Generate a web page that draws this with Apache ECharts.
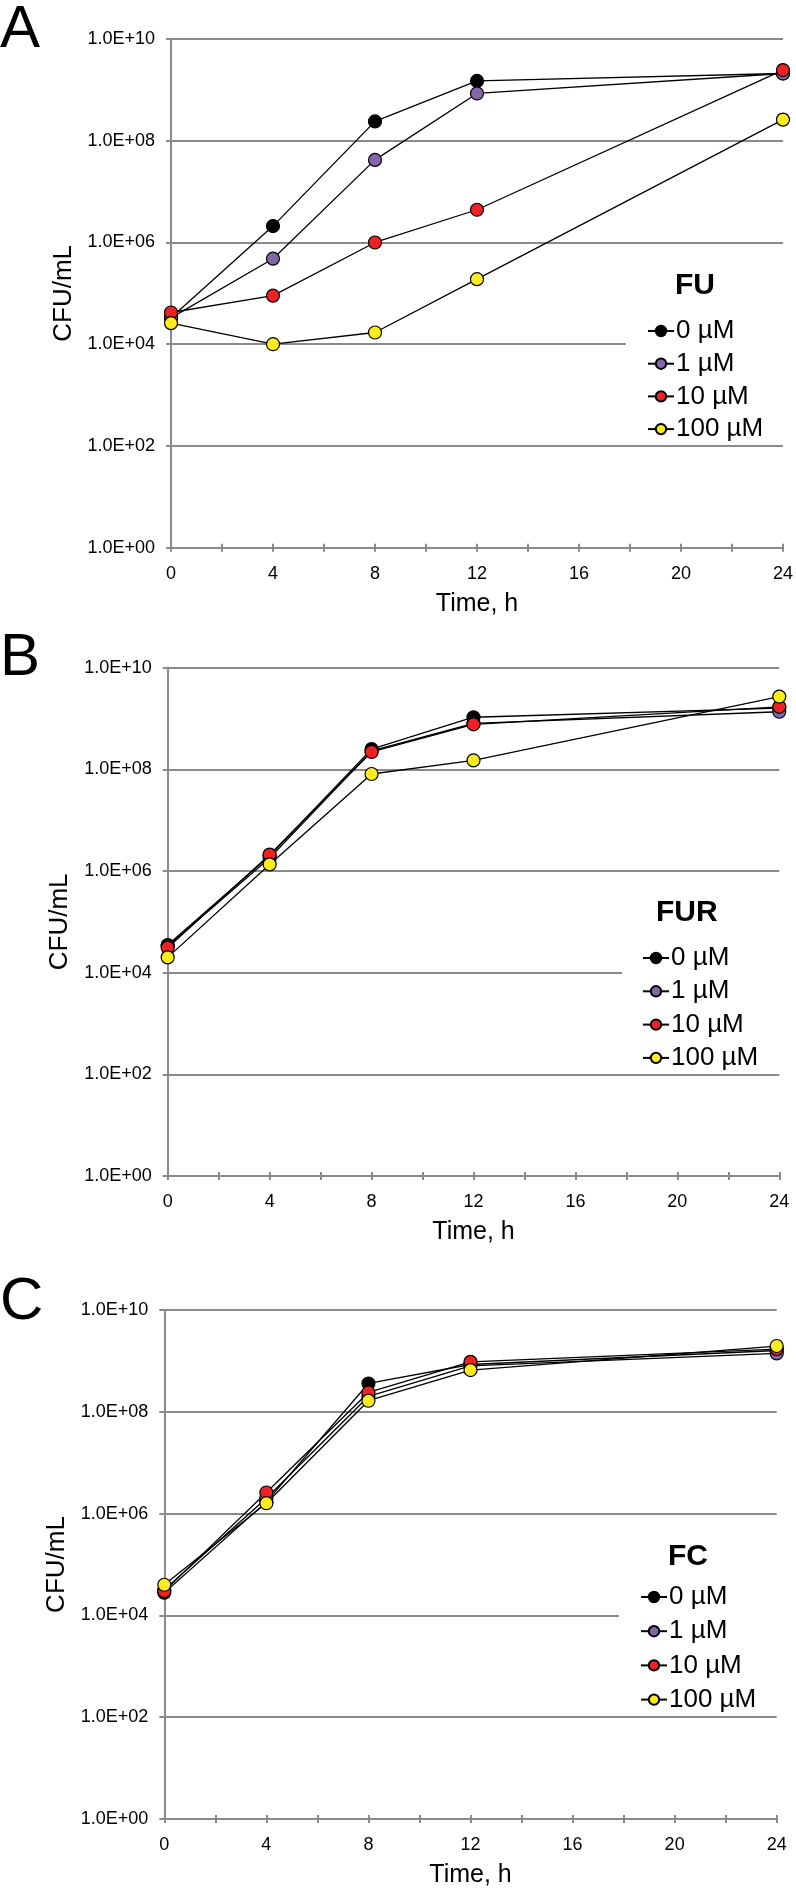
<!DOCTYPE html>
<html>
<head>
<meta charset="utf-8">
<script src="https://cdn.jsdelivr.net/npm/echarts@6/dist/echarts.min.js"></script>
<style>
html,body{margin:0;padding:0;background:#fff;}
#chart{width:796px;height:1894px;}
</style>
</head>
<body>
<div id="chart"></div>
<script>
// ---- data ----
var times = [0, 4, 8, 12, 24];
var concNames = ['0 µM', '1 µM', '10 µM', '100 µM'];
var panelLetters = ['A', 'B', 'C'];
var panelTitles = ['FU', 'FUR', 'FC'];
var xTickLabels = [0, 4, 8, 12, 16, 20, 24];
var yTickExponents = [0, 2, 4, 6, 8, 10];   // labels 1.0E+00 ... 1.0E+10

var fu_0   = [3.3e4, 2.1e6, 2.4e8, 1.5e9, 2.1e9];
var fu_1   = [3.3e4, 4.8e5, 4.2e7, 8.5e8, 2.1e9];
var fu_10  = [4.2e4, 9.0e4, 1.0e6, 4.4e6, 2.45e9];
var fu_100 = [2.6e4, 1.0e4, 1.7e4, 1.9e5, 2.6e8];

var fur_0   = [3.5e4, 2.0e6, 2.5e8, 1.06e9, 1.6e9];
var fur_1   = [3.3e4, 1.8e6, 2.3e8, 8.0e8, 1.36e9];
var fur_10  = [3.1e4, 2.1e6, 2.2e8, 7.7e8, 1.7e9];
var fur_100 = [2.0e4, 1.35e6, 8.1e7, 1.5e8, 2.7e9];

var fc_0   = [2.8e4, 1.7e6, 3.6e8, 8.5e8, 1.6e9];
var fc_1   = [3.2e4, 2.0e6, 2.0e8, 8.0e8, 1.4e9];
var fc_10  = [3.0e4, 2.6e6, 2.4e8, 9.6e8, 1.7e9];
var fc_100 = [4.0e4, 1.6e6, 1.65e8, 6.6e8, 1.96e9];

var panelData = [
  [fu_0, fu_1, fu_10, fu_100],
  [fur_0, fur_1, fur_10, fur_100],
  [fc_0, fc_1, fc_10, fc_100]
];

// ---- styling / layout ----
var FONT = '"Liberation Sans", Arial, sans-serif';
var fills = ['#000000', '#8166a8', '#ee2224', '#fbed1d'];
var AXIS_GRAY = '#8a8a8a';

var grids = [
  {left: 171, top: 39, width: 612, height: 508.7},
  {left: 167.7, top: 667.7, width: 611.6, height: 508.3},
  {left: 164.3, top: 1310, width: 612.4, height: 509}
];
var letterTops = [0, 628, 1272];
var titlePos = [{left: 675, top: 271}, {left: 656, top: 898}, {left: 668, top: 1542}];
var legendPos = [
  {left: 626, top: 312, gap: 2.7, padL: 21},
  {left: 622, top: 939, gap: 3.3, padL: 20},
  {left: 619, top: 1578, gap: 4.2, padL: 21}
];

function expLabel(e) {
  if (yTickExponents.indexOf(e) < 0) return '';
  return '1.0E+' + (e < 10 ? '0' : '') + e;
}

var option = {
  animation: false,
  backgroundColor: '#fff',
  textStyle: {fontFamily: FONT, color: '#000'},
  grid: grids.map(function (g) { return Object.assign({containLabel: false}, g); }),
  title: [],
  legend: [],
  xAxis: [],
  yAxis: [],
  series: []
};

for (var p = 0; p < 3; p++) {
  option.title.push({
    text: panelLetters[p], left: 0, top: letterTops[p], padding: 0,
    textStyle: {fontFamily: FONT, fontSize: 60, fontWeight: 'normal', color: '#000'}
  });
  option.title.push({
    text: panelTitles[p], left: titlePos[p].left, top: titlePos[p].top, padding: 0,
    textStyle: {fontFamily: FONT, fontSize: 30, fontWeight: 'bold', color: '#000'}
  });

  // main x axis (labels, outward ticks)
  option.xAxis.push({
    type: 'value', gridIndex: p, min: 0, max: 24, interval: 2,
    name: 'Time, h', nameLocation: 'middle', nameGap: 44,
    nameTextStyle: {fontFamily: FONT, fontSize: 25, color: '#000'},
    axisLine: {show: true, onZero: false, lineStyle: {color: AXIS_GRAY, width: 2}},
    axisTick: {show: true, length: 4, lineStyle: {color: AXIS_GRAY, width: 2}},
    axisLabel: {
      fontFamily: FONT, fontSize: 18, color: '#000', margin: 17,
      formatter: function (v) { return xTickLabels.indexOf(v) >= 0 ? String(v) : ''; }
    },
    splitLine: {show: false}
  });
  // companion x axis (inward ticks, so ticks cross the axis line)
  option.xAxis.push({
    type: 'value', gridIndex: p, min: 0, max: 24, interval: 2, position: 'bottom',
    axisLine: {show: false, onZero: false},
    axisTick: {show: true, inside: true, length: 4, lineStyle: {color: AXIS_GRAY, width: 2}},
    axisLabel: {show: false},
    splitLine: {show: false}
  });

  // visible decade axis (exponent scale 0..10) - ticks, labels, gridlines
  option.yAxis.push({
    type: 'value', gridIndex: p, min: 0, max: 10, interval: 2, position: 'left',
    name: 'CFU/mL', nameLocation: 'middle', nameGap: 92, nameRotate: 90,
    nameTextStyle: {fontFamily: FONT, fontSize: 26, color: '#000'},
    axisLine: {show: true, onZero: false, lineStyle: {color: AXIS_GRAY, width: 2}},
    axisTick: {show: true, length: 5, lineStyle: {color: AXIS_GRAY, width: 2}},
    axisLabel: {fontFamily: FONT, fontSize: 18, color: '#000', margin: 16, formatter: expLabel},
    splitLine: {show: true, lineStyle: {color: AXIS_GRAY, width: 2}}
  });
  // log axis that actually places the data (same pixel extent, hidden)
  option.yAxis.push({
    type: 'log', logBase: 10, gridIndex: p, min: 1, max: 1e10, position: 'left',
    show: false,
    axisLine: {show: false}, axisTick: {show: false}, axisLabel: {show: false},
    splitLine: {show: false}
  });

  for (var k = 0; k < 4; k++) {
    var vals = panelData[p][k];
    option.series.push({
      type: 'line', name: concNames[k],
      xAxisIndex: p * 2, yAxisIndex: p * 2 + 1,
      data: times.map(function (t, i) { return [t, vals[i]]; }),
      symbol: 'circle', symbolSize: 13,
      lineStyle: {color: '#000', width: 1.3},
      itemStyle: {color: fills[k], borderColor: '#000', borderWidth: 1.2},
      emphasis: {disabled: true}
    });
  }

  option.legend.push({
    data: concNames.slice(), orient: 'vertical',
    left: legendPos[p].left, top: legendPos[p].top,
    padding: [4, 30, 0, legendPos[p].padL],
    backgroundColor: '#fff',
    itemWidth: 26, itemHeight: 13, itemGap: legendPos[p].gap,
    selectedMode: false,
    textStyle: {fontFamily: FONT, fontSize: 26, color: '#000', lineHeight: 30, padding: [0, 0, 0, -3]}
  });
}

var chart = echarts.init(document.getElementById('chart'), null, {renderer: 'canvas', width: 796, height: 1894});
chart.setOption(option);
</script>
</body>
</html>
